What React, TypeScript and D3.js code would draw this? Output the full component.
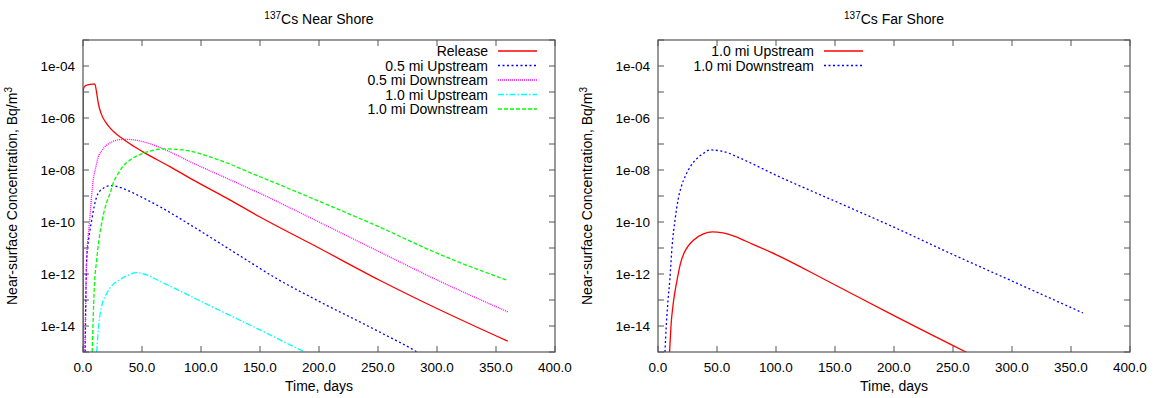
import React from "react";
import * as d3 from "d3";

// time axis, days
const xTicks = [0, 50, 100, 150, 200, 250, 300, 350, 400];
const yDecades = [1e-15, 1e-14, 1e-13, 1e-12, 1e-11, 1e-10, 1e-9, 1e-8, 1e-7, 1e-6, 1e-5, 1e-4, 1e-3];
const yLabelled = [1e-14, 1e-12, 1e-10, 1e-8, 1e-6, 1e-4];

// Near shore
const releaseT = [0, 0.2, 1, 3, 6, 10, 11.6, 13, 15.8, 19, 22.9, 27, 32.8, 40, 50.8, 73.7, 93.2, 121.8, 150, 200, 251, 300, 360];
const releaseV = [1e-15, 1.12e-5, 1.58e-5, 1.82e-5, 1.95e-5, 2.04e-5, 9.1e-6, 3.55e-6, 1.32e-6, 7.1e-7, 4.17e-7, 2.69e-7, 1.7e-7, 1.0e-7, 5.0e-8, 1.35e-8, 4.17e-9, 8.3e-10, 1.55e-10, 1.0e-11, 5.9e-13, 4.7e-14, 2.6e-15];

const up05T = [1.8, 3.1, 5, 7.4, 9.5, 11.6, 14, 17.2, 22.9, 30, 37, 50, 65, 93.5, 133, 165, 200, 250, 283, 290];
const up05V = [1e-15, 3.5e-12, 2.5e-11, 1.2e-10, 4.0e-10, 9.3e-10, 1.5e-9, 2.0e-9, 2.5e-9, 2.24e-9, 1.7e-9, 8.9e-10, 3.9e-10, 6.6e-11, 5.0e-12, 6.3e-13, 8.9e-14, 6.3e-15, 1e-15, 6.3e-16];

const down05T = [1.6, 3.1, 4.5, 5.9, 7.3, 8.7, 10.8, 13, 16, 20, 24, 28.5, 37, 51, 65, 93.5, 121.8, 150, 200, 250, 300, 360];
const down05V = [1e-15, 3.5e-12, 3.2e-11, 1.58e-10, 1.0e-9, 4.2e-9, 1.26e-8, 3.2e-8, 5.6e-8, 9.1e-8, 1.17e-7, 1.41e-7, 1.51e-7, 1.23e-7, 7.4e-8, 1.82e-8, 4.8e-9, 1.26e-9, 1.0e-10, 7.6e-12, 5.9e-13, 3.5e-14];

const up10T = [11.6, 12.5, 14, 16, 20, 25, 30, 38, 45, 52, 64, 80, 100, 125, 150, 188, 195];
const up10V = [1e-15, 4.0e-15, 2.0e-14, 6.3e-14, 1.78e-13, 3.8e-13, 5.6e-13, 8.9e-13, 1.12e-12, 1.0e-12, 5.6e-13, 2.5e-13, 8.9e-14, 2.5e-14, 7.1e-15, 1e-15, 7.1e-16];

const down10T = [7.8, 9.5, 11.6, 13.5, 15.8, 19, 22.9, 26, 29.9, 34, 39.8, 51, 60, 68, 85, 107.6, 150, 200, 250, 300, 360];
const down10V = [1e-15, 2.5e-13, 3.5e-12, 2.0e-11, 8.9e-11, 4.0e-10, 1.26e-9, 3.5e-9, 7.4e-9, 1.41e-8, 2.4e-8, 4.4e-8, 5.8e-8, 6.5e-8, 5.9e-8, 3.2e-8, 5.5e-9, 6.3e-10, 6.8e-11, 6.3e-12, 5.6e-13];

// Far shore
const farUpT = [9.8, 11, 13, 16.2, 19, 22, 26, 30, 38, 46, 55, 65, 80, 100, 142, 200, 261, 270];
const farUpV = [1e-15, 1e-14, 7.9e-14, 5.9e-13, 2.5e-12, 6.3e-12, 1.26e-11, 2.0e-11, 3.4e-11, 4.2e-11, 3.8e-11, 2.8e-11, 1.41e-11, 5.6e-12, 5.9e-13, 2.5e-14, 1e-15, 6.3e-16];

const farDownT = [5.9, 7, 8.5, 10, 12, 14.5, 17, 20, 23, 27, 32, 38, 44, 55, 70, 100, 150, 200, 250, 298, 360];
const farDownV = [1e-15, 1e-14, 1e-13, 5.9e-13, 1.26e-11, 1.26e-10, 7.1e-10, 2.5e-9, 5.6e-9, 1.26e-8, 2.5e-8, 4.2e-8, 5.9e-8, 5.2e-8, 2.8e-8, 6.3e-9, 6.3e-10, 6.3e-11, 5.6e-12, 5.9e-13, 3.2e-14];

type Series = { label: string; t: number[]; v: number[]; color: string; dash: string };

const nearSeries: Series[] = [
  { label: "Release", t: releaseT, v: releaseV, color: "#ff0000", dash: "none" },
  { label: "0.5 mi Upstream", t: up05T, v: up05V, color: "#0000ff", dash: "2 2.5" },
  { label: "0.5 mi Downstream", t: down05T, v: down05V, color: "#ff00ff", dash: "1 1" },
  { label: "1.0 mi Upstream", t: up10T, v: up10V, color: "#00ffff", dash: "6 2 1.5 2" },
  { label: "1.0 mi Downstream", t: down10T, v: down10V, color: "#00ff00", dash: "4 2" },
];

const farSeries: Series[] = [
  { label: "1.0 mi Upstream", t: farUpT, v: farUpV, color: "#ff0000", dash: "none" },
  { label: "1.0 mi Downstream", t: farDownT, v: farDownV, color: "#0000ff", dash: "2 2.5" },
];

const W = 1156;
const H = 398;
const top = 40;
const bottom = 352;
const font = "'Liberation Sans', Arial, Helvetica, sans-serif";
const frameColor = "#555";
const fs = 14;
const tickFs = 13.5;

const fmtExp = (v: number) => {
  const e = Math.round(Math.log10(v));
  const s = String(Math.abs(e)).padStart(2, "0");
  return `1e${e < 0 ? "-" : "+"}${s}`;
};

function Panel({ id, left, right, title, series, legendRight }: {
  id: string; left: number; right: number; title: string; series: Series[]; legendRight: number;
}) {
  const x = d3.scaleLinear().domain([0, 400]).range([left, right]);
  const y = d3.scaleLog().domain([1e-15, 1e-3]).range([bottom, top]);
  const line = d3
    .line<[number, number]>()
    .x((d) => x(d[0]))
    .y((d) => y(d[1]))
    .curve(d3.curveMonotoneX);
  const tick = 6;
  const cx = (left + right) / 2;
  const cy = (top + bottom) / 2;
  const ylabX = left - 66;

  return (
    <g>
      <defs>
        <clipPath id={id}>
          <rect x={left} y={top} width={right - left} height={bottom - top} />
        </clipPath>
      </defs>

      {/* title */}
      <text x={cx} y={24} textAnchor="middle" fontSize={fs} fontFamily={font} fill="#000">
        <tspan fontSize={10} dy={-5}>137</tspan>
        <tspan dy={5}>{title}</tspan>
      </text>

      {/* ticks */}
      {xTicks.map((t) => (
        <g key={"x" + t}>
          <line x1={x(t)} x2={x(t)} y1={bottom} y2={bottom - tick} stroke={frameColor} strokeWidth={1} />
          <line x1={x(t)} x2={x(t)} y1={top} y2={top + tick} stroke={frameColor} strokeWidth={1} />
          <text x={x(t)} y={372} textAnchor="middle" fontSize={tickFs} fontFamily={font} fill="#000">
            {t.toFixed(1)}
          </text>
        </g>
      ))}
      {yDecades.map((v) => (
        <g key={"y" + v}>
          <line x1={left} x2={left + tick} y1={y(v)} y2={y(v)} stroke={frameColor} strokeWidth={1} />
          <line x1={right} x2={right - tick} y1={y(v)} y2={y(v)} stroke={frameColor} strokeWidth={1} />
        </g>
      ))}
      {yLabelled.map((v) => (
        <text key={"yl" + v} x={left - 8} y={y(v) + 4.5} textAnchor="end" fontSize={tickFs} fontFamily={font} fill="#000">
          {fmtExp(v)}
        </text>
      ))}

      {/* axis labels */}
      <text x={cx} y={391} textAnchor="middle" fontSize={fs} fontFamily={font} fill="#000">
        Time, days
      </text>
      <text
        transform={`translate(${ylabX},${cy}) rotate(-90)`}
        textAnchor="middle"
        fontSize={fs}
        fontFamily={font}
        fill="#000"
      >
        Near-surface Concentration, Bq/m<tspan fontSize={10} dy={-5}>3</tspan>
      </text>

      {/* curves */}
      <g clipPath={`url(#${id})`}>
        {series.map((s) => (
          <path
            key={s.label}
            d={line(s.t.map((t, i) => [t, s.v[i]] as [number, number])) || ""}
            fill="none"
            stroke={s.color}
            strokeWidth={1.3}
            strokeDasharray={s.dash}
          />
        ))}
      </g>

      {/* legend */}
      {series.map((s, i) => {
        const ly = 51 + i * 14.5;
        return (
          <g key={"lg" + s.label}>
            <text x={legendRight} y={ly + 5} textAnchor="end" fontSize={fs} fontFamily={font} fill="#000">
              {s.label}
            </text>
            <line x1={legendRight + 10} x2={legendRight + 49} y1={ly} y2={ly} stroke={s.color} strokeWidth={1.3} strokeDasharray={s.dash} />
          </g>
        );
      })}

      {/* frame */}
      <rect x={left} y={top} width={right - left} height={bottom - top} fill="none" stroke={frameColor} strokeWidth={1.2} />
    </g>
  );
}

export default function App() {
  return (
    <div style={{ position: "fixed", left: 0, top: 0, width: W, height: H, background: "#fff" }}>
      <svg width={W} height={H} style={{ display: "block" }}>
        <rect width={W} height={H} fill="#fff" />
        <Panel id="near" left={83} right={555} title="Cs Near Shore" series={nearSeries} legendRight={488} />
        <Panel id="far" left={658} right={1130} title="Cs Far Shore" series={farSeries} legendRight={814} />
      </svg>
    </div>
  );
}
